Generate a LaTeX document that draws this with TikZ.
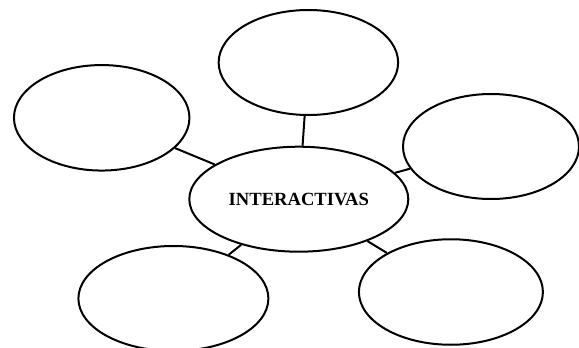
\documentclass[tikz,border=0pt]{standalone}
\usepackage{fontspec}
\setmainfont{Liberation Serif}
\usetikzlibrary{shapes.geometric}
\begin{document}
\begin{tikzpicture}[x=1pt,y=-1pt,
  bubble/.style={ellipse,draw=black,line width=2pt,inner sep=0pt},
  link/.style={draw=black,line width=2pt}]
\useasboundingbox (0,0) rectangle (579,348);
\begin{scope}
\clip (0,0) rectangle (579,348);
\node[bubble,minimum width=219pt,minimum height=105pt] (c) at (298.8,199.2) {\fontsize{18.6}{20}\selectfont\bfseries INTERACTIVAS};
\node[bubble,minimum width=179.5pt,minimum height=105pt] (t) at (308.4,62.5) {};
\node[bubble,minimum width=175.5pt,minimum height=105.5pt] (l) at (101.7,117.8) {};
\node[bubble,minimum width=176pt,minimum height=105pt] (r) at (491,146.5) {};
\node[bubble,minimum width=190pt,minimum height=105pt] (bl) at (173.4,298.5) {};
\node[bubble,minimum width=184pt,minimum height=105.5pt] (br) at (450.9,292) {};
\draw[link] (c) -- (t);
\draw[link] (c) -- (l);
\draw[link] (c) -- (r);
\draw[link] (c) -- (bl);
\draw[link] (c) -- (br);
\end{scope}
\end{tikzpicture}
\end{document}
